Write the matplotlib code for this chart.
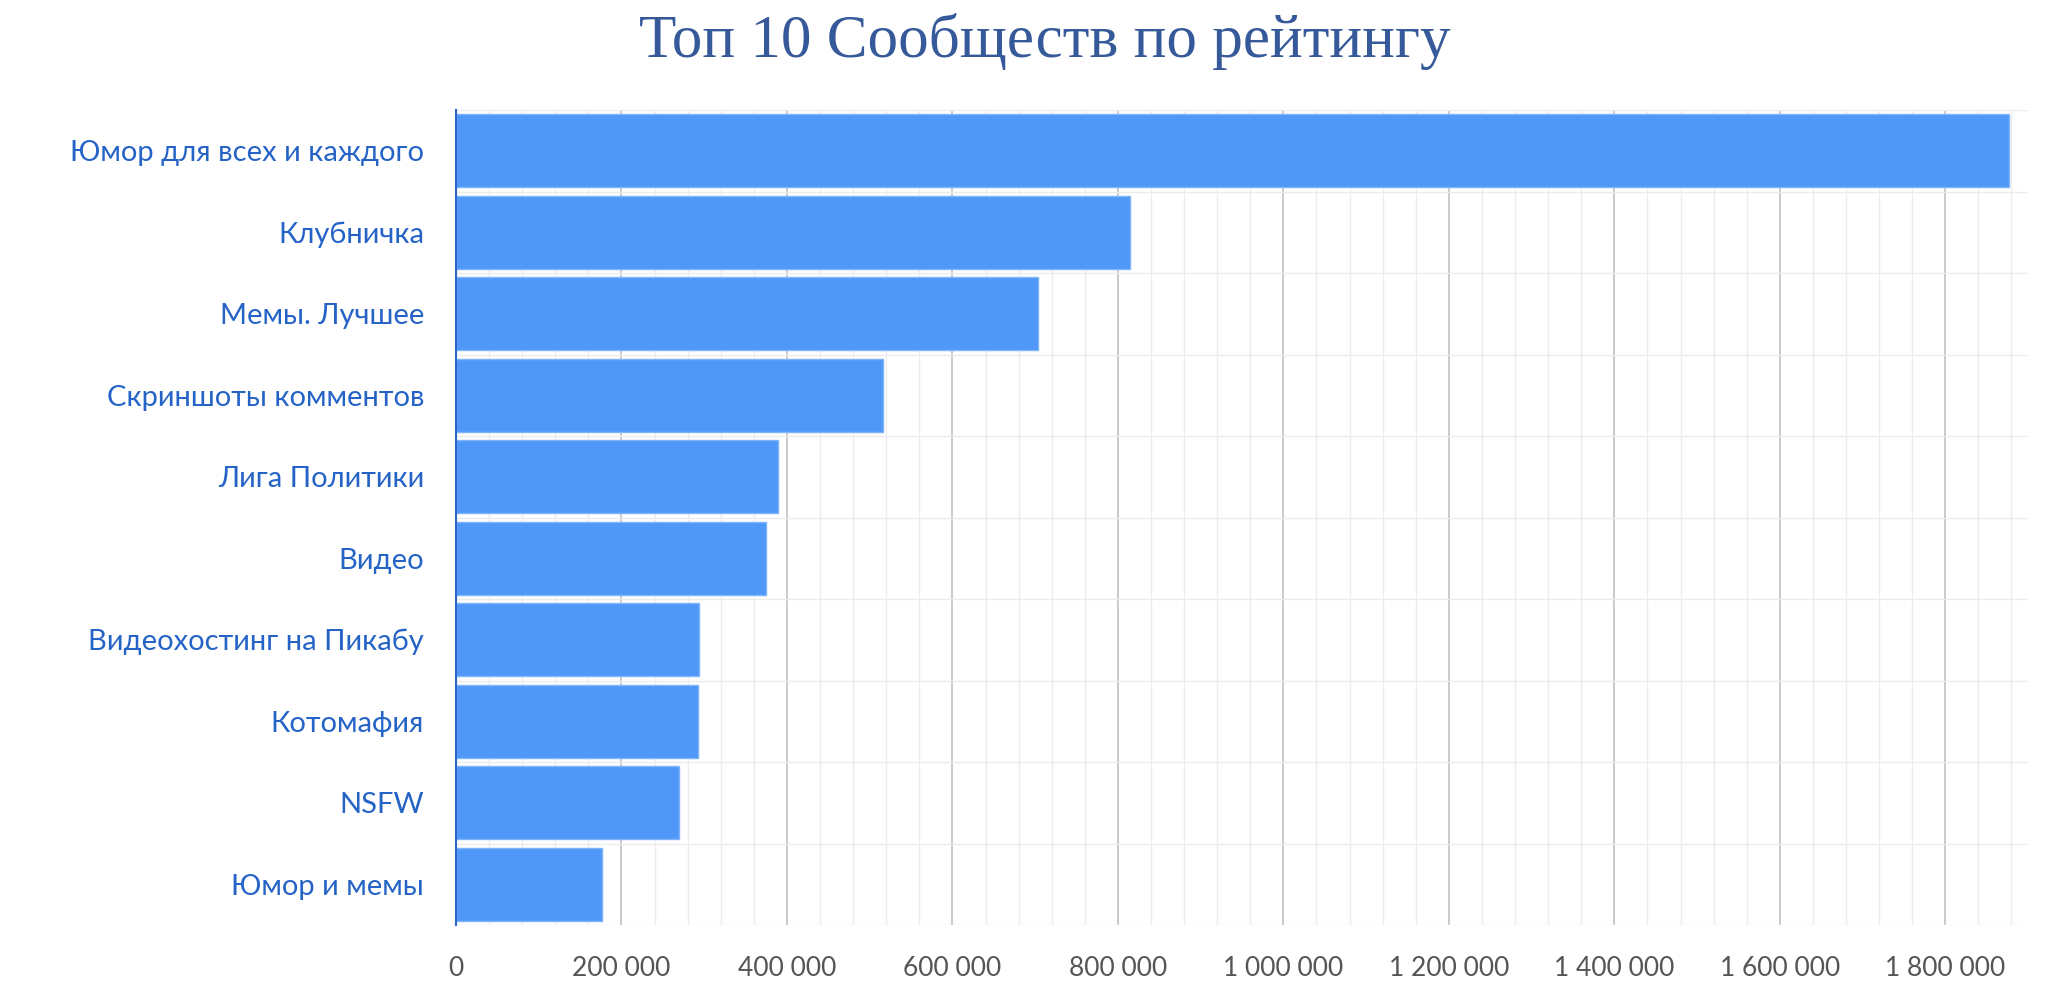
import matplotlib
matplotlib.use("Agg")
import matplotlib.pyplot as plt
from matplotlib.ticker import MultipleLocator, FuncFormatter
import numpy as np

categories = [
    "Юмор для всех и каждого",
    "Клубничка",
    "Мемы. Лучшее",
    "Скриншоты комментов",
    "Лига Политики",
    "Видео",
    "Видеохостинг на Пикабу",
    "Котомафия",
    "NSFW",
    "Юмор и мемы",
]
values = [1877000, 815000, 703000, 516000, 389000, 375000, 294000, 292000, 269000, 177000]
title = "Топ 10 Сообществ по рейтингу"
x_max = 1900000

fig = plt.figure(figsize=(20.48, 10.0), dpi=100)
ax = fig.add_axes([456 / 2048, 0.075, (2028 - 456) / 2048, 0.815])

y = np.arange(len(categories))
ax.barh(y, values, height=0.9, color="#4f98f8", edgecolor="#80b4fa", linewidth=1.0, zorder=3)

ax.set_xlim(0, x_max)
ax.set_ylim(len(categories) - 0.5, -0.5)

ax.xaxis.set_major_locator(MultipleLocator(200000))
ax.xaxis.set_minor_locator(MultipleLocator(40000))
ax.yaxis.set_major_locator(matplotlib.ticker.FixedLocator(y))
ax.yaxis.set_minor_locator(matplotlib.ticker.FixedLocator(np.arange(-0.5, len(categories), 1.0)))

ax.grid(which="major", axis="x", color="#c6c6c6", linewidth=1.3, zorder=1)
ax.grid(which="minor", axis="x", color="#ededed", linewidth=1.0, zorder=0)
ax.grid(which="minor", axis="y", color="#ececec", linewidth=1.0, zorder=0)

def fmt(v, pos):
    return "{:,}".format(int(v)).replace(",", " ")

ax.xaxis.set_major_formatter(FuncFormatter(fmt))
ax.set_yticks(y)
ax.set_yticklabels(categories)

for s in ["top", "right", "bottom"]:
    ax.spines[s].set_visible(False)
ax.spines["left"].set_color("#2a66c9")
ax.spines["left"].set_linewidth(1.5)
ax.spines["left"].set_zorder(5)

ax.tick_params(axis="both", which="both", length=0)
ax.tick_params(axis="y", pad=23, labelsize=21, labelcolor="#2563c7")
ax.tick_params(axis="x", pad=22, labelsize=19, labelcolor="#555555")
for lab in ax.get_yticklabels():
    lab.set_fontfamily(["Lato", "DejaVu Sans"])
for lab in ax.get_xticklabels():
    lab.set_fontfamily(["Lato", "DejaVu Sans"])

fig.text(0.51, 0.958, title, ha="center", va="center", fontsize=44,
         family=["Liberation Serif", "DejaVu Serif"], color="#36599a")

fig.savefig("out.png", dpi=100, facecolor="white")
